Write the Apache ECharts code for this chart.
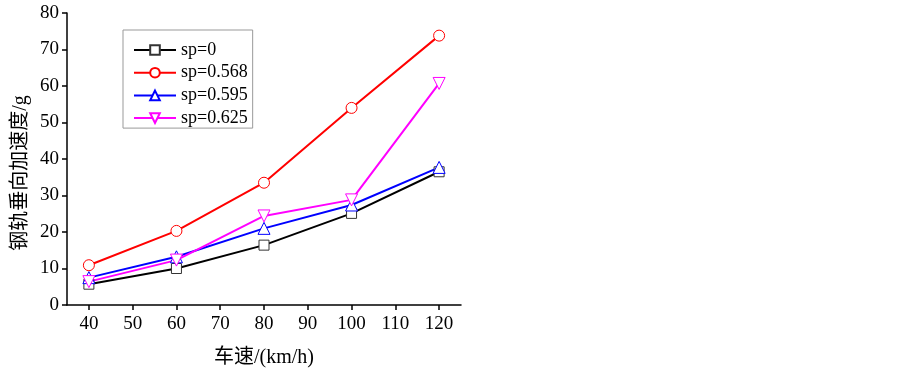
<!DOCTYPE html>
<html>
<head>
<meta charset="utf-8">
<script src="https://cdn.jsdelivr.net/npm/echarts@6/dist/echarts.min.js"></script>
<style>
  html, body { margin: 0; padding: 0; background: #fff; }
  #main { width: 903px; height: 368px; }
</style>
</head>
<body>
<div id="main"></div>
<script>
// 车速 (km/h)
const speeds = [40, 60, 80, 100, 120];
const xTicks = [40, 50, 60, 70, 80, 90, 100, 110, 120];
const seriesNames = ['sp=0', 'sp=0.568', 'sp=0.595', 'sp=0.625'];
// 钢轨垂向加速度 (g)
const sp0 = [5.7, 10.0, 16.4, 25.1, 36.5];
const sp0568 = [10.9, 20.3, 33.5, 54.0, 73.8];
const sp0595 = [7.5, 13.2, 21.0, 27.4, 37.7];
const sp0625 = [6.4, 12.3, 24.4, 28.8, 60.7];

const font = '"Liberation Serif", "Times New Roman", "Noto Sans CJK SC", serif';

function pairs(vals) {
  return speeds.map((s, i) => [s, vals[i]]);
}

function line(name, vals, color, symbol, symbolColor, size) {
  return {
    name: name,
    type: 'line',
    data: pairs(vals),
    symbol: symbol,
    symbolSize: size,
    showAllSymbol: true,
    lineStyle: { color: color, width: 2 },
    itemStyle: { color: '#fff', borderColor: symbolColor, borderWidth: 1 },
    color: color
  };
}

let option = {
  animation: false,
  backgroundColor: '#fff',
  textStyle: { fontFamily: font },
  grid: { left: 67, right: 442, top: 13, bottom: 63, outerBoundsMode: 'none' },
  legend: {
    orient: 'vertical',
    left: 123,
    top: 30,
    padding: [11, 5, 1, 10],
    itemWidth: 42,
    itemHeight: 12,
    itemGap: 4.7,
    borderColor: '#999',
    borderWidth: 1,
    textStyle: { fontFamily: font, fontSize: 18, color: '#000' },
    data: seriesNames
  },
  xAxis: {
    type: 'value',
    min: 35,
    max: 125,
    name: '车速/(km/h)',
    nameLocation: 'middle',
    nameGap: 43,
    nameTextStyle: { fontFamily: font, fontSize: 20, color: '#000' },
    splitLine: { show: false },
    axisLine: { lineStyle: { color: '#000', width: 1.5 } },
    axisTick: { length: 5, customValues: xTicks, lineStyle: { color: '#000', width: 1.5 } },
    axisLabel: { fontFamily: font, fontSize: 19, color: '#000', margin: 10, customValues: xTicks }
  },
  yAxis: {
    type: 'value',
    min: 0,
    max: 80,
    interval: 10,
    name: '钢轨垂向加速度/g',
    nameLocation: 'middle',
    nameGap: 36,
    nameTextStyle: { fontFamily: font, fontSize: 20, color: '#000', padding: [0, 28, 0, 0] },
    splitLine: { show: false },
    axisLine: { show: true, lineStyle: { color: '#000', width: 1.5 } },
    axisTick: { show: true, length: 5, lineStyle: { color: '#000', width: 1.5 } },
    axisLabel: { fontFamily: font, fontSize: 19, color: '#000', margin: 8 }
  },
  series: [
    line(seriesNames[0], sp0, '#000', 'rect', '#333', 10),
    line(seriesNames[1], sp0568, '#ff0000', 'circle', '#ff0000', 11),
    line(seriesNames[2], sp0595, '#0000ff', 'triangle', '#0000ff', 12),
    line(seriesNames[3], sp0625, '#ff00ff', 'path://M0,0 L10,0 L5,9 Z', '#ff00ff', 12)
  ]
};

let myChart = echarts.init(document.getElementById('main'));
myChart.setOption(option);
</script>
</body>
</html>
